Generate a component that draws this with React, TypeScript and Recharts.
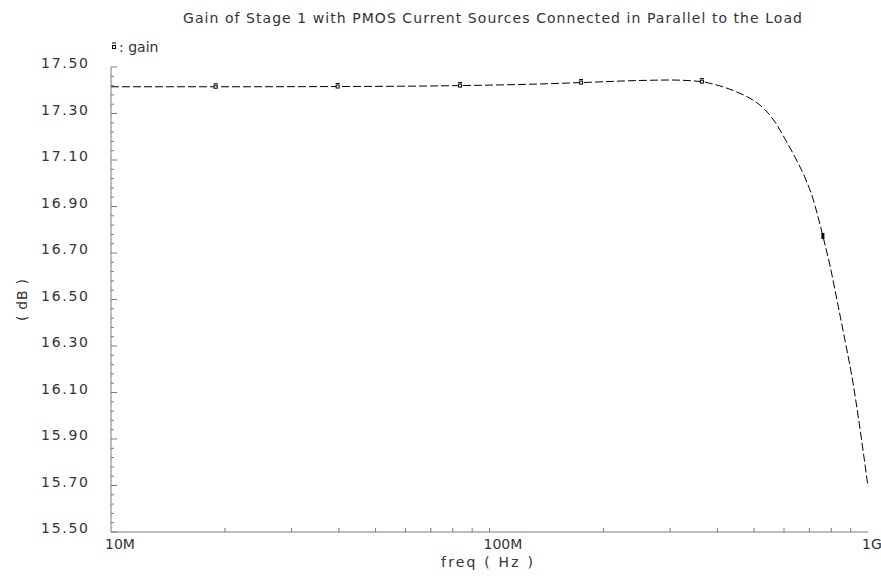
import React from 'react';
import { LineChart, Line, XAxis, YAxis } from 'recharts';

// frequency sweep (Hz) and gain (dB)
const FREQ = [
  1e7, 1.89e7, 3.97e7, 8.36e7, 1.36e8, 1.746e8, 2.5e8, 3.0e8, 3.64e8, 3.82e8, 4.06e8,
  4.4e8, 4.73e8, 5.03e8, 5.34e8, 5.68e8, 6.04e8, 6.41e8, 6.82e8, 7.16e8, 7.38e8, 7.6e8,
  7.94e8, 8.33e8, 8.69e8, 9.13e8, 9.41e8, 9.7e8, 1e9,
];
const GAIN = [
  17.415, 17.415, 17.416, 17.42, 17.427, 17.433, 17.442, 17.444, 17.437, 17.43, 17.419,
  17.399, 17.377, 17.352, 17.317, 17.263, 17.19, 17.113, 17.023, 16.932, 16.855, 16.773,
  16.644, 16.476, 16.326, 16.141, 16.003, 15.853, 15.694,
];
const MARKERS = [1.89e7, 3.97e7, 8.36e7, 1.746e8, 3.64e8];
const FILLED_MARKERS = [7.6e8];

const X_TICKS = [
  1e7, 2e7, 3e7, 4e7, 5e7, 6e7, 7e7, 8e7, 9e7,
  1e8, 2e8, 3e8, 4e8, 5e8, 6e8, 7e8, 8e8, 9e8, 1e9,
];
const X_LABELS: Record<string, string> = { '10000000': '10M', '100000000': '100M', '1000000000': '1G' };
const Y_MAJOR = [15.5, 15.7, 15.9, 16.1, 16.3, 16.5, 16.7, 16.9, 17.1, 17.3, 17.5];
const Y_LABELS = ['15.50', '15.70', '15.90', '16.10', '16.30', '16.50', '16.70', '16.90', '17.10', '17.30', '17.50'];

const AXIS = '#7a7a7a';
const INK = '#333';
const FONT = '"DejaVu Sans", sans-serif';

const data = FREQ.map((f, i) => ({
  freq: f,
  gain: GAIN[i],
  marker: MARKERS.includes(f) ? 'open' : FILLED_MARKERS.includes(f) ? 'filled' : '',
}));

// minor ticks: 5 steps between each labelled value
const yTicks: number[] = [];
Y_MAJOR.forEach((v, i) => {
  yTicks.push(v);
  if (i < Y_MAJOR.length - 1) {
    const step = (Y_MAJOR[i + 1] - v) / 5;
    for (let k = 1; k < 5; k++) yTicks.push(+(v + step * k).toFixed(3));
  }
});

const XTick = (props: any) => {
  const { x, y, payload } = props;
  const label = X_LABELS[String(payload.value)];
  const edge = payload.value === X_TICKS[0] || payload.value === X_TICKS[X_TICKS.length - 1];
  return (
    <g>
      {!edge && <line x1={x} x2={x} y1={y} y2={y - 4} stroke={AXIS} />}
      {label && (
        <text x={x - 6} y={y + 17} fontSize={14} fontFamily={FONT} fill={INK}>
          {label}
        </text>
      )}
    </g>
  );
};

const YTick = (props: any) => {
  const { x, y, payload } = props;
  const idx = Y_MAJOR.findIndex((v) => Math.abs(v - payload.value) < 1e-6);
  const major = idx >= 0;
  return (
    <g>
      <line x1={x} x2={x + (major ? 6 : 3)} y1={y} y2={y} stroke={AXIS} />
      {major && (
        <text
          x={41}
          y={y + 1}
          textLength={47}
          lengthAdjust="spacing"
          fontSize={14}
          fontFamily={FONT}
          fill={INK}
        >
          {Y_LABELS[idx]}
        </text>
      )}
    </g>
  );
};

const renderDot = (props: any) => {
  const { cx, cy, payload, index } = props;
  if (payload.marker === 'filled') {
    return <rect key={`m-${index}`} x={cx - 1.5} y={cy - 3} width={3} height={6} fill="#000" />;
  }
  if (payload.marker === 'open') {
    return (
      <g key={`m-${index}`}>
        <line x1={cx - 2} x2={cx + 2} y1={cy - 3} y2={cy - 3} stroke="#000" />
        <rect x={cx - 1.5} y={cy - 1.5} width={3} height={3} fill="#fff" stroke="#000" />
      </g>
    );
  }
  return <g key={`m-${index}`} />;
};

export default function App() {
  return (
    <div style={{ position: 'absolute', left: 0, top: 0, width: 881, height: 578, background: '#fff' }}>
      <LineChart width={881} height={578} data={data} margin={{ top: 67, right: 13, bottom: 0, left: 0 }}>
        <XAxis
          dataKey="freq"
          type="number"
          scale="log"
          domain={[1e7, 1e9]}
          ticks={X_TICKS}
          interval={0}
          height={46}
          tickSize={0}
          tickMargin={0}
          tickLine={false}
          axisLine={{ stroke: AXIS }}
          tick={<XTick />}
        />
        <YAxis
          type="number"
          domain={[15.5, 17.5]}
          ticks={yTicks}
          interval={0}
          width={111}
          tickSize={0}
          tickMargin={0}
          tickLine={false}
          axisLine={{ stroke: AXIS }}
          tick={<YTick />}
        />
        <Line
          type="monotone"
          dataKey="gain"
          stroke="#000"
          strokeWidth={1}
          strokeDasharray="8 3"
          dot={renderDot}
          activeDot={false}
          isAnimationActive={false}
        />
      </LineChart>
      <svg width={881} height={578} style={{ position: 'absolute', left: 0, top: 0, pointerEvents: 'none' }}>
        <text x={183} y={23} textLength={619} lengthAdjust="spacing" fontSize={14} fontFamily={FONT} fill={INK}>
          Gain of Stage 1 with PMOS Current Sources Connected in Parallel to the Load
        </text>
        <line x1={112} x2={116} y1={43} y2={43} stroke="#000" />
        <rect x={112.5} y={45.5} width={3} height={3} fill="none" stroke="#000" />
        <text x={119} y={52} fontSize={14} fontFamily={FONT} fill={INK}>
          :  gain
        </text>
        <text
          x={22}
          y={300}
          transform="rotate(-90 22 300)"
          textAnchor="middle"
          dominantBaseline="central"
          fontSize={14}
          textLength={42}
          lengthAdjust="spacing"
          fontFamily={FONT}
          fill={INK}
        >
          ( dB )
        </text>
        <text x={441} y={567} textLength={92} lengthAdjust="spacing" fontSize={14} fontFamily={FONT} fill={INK}>
          freq ( Hz )
        </text>
      </svg>
    </div>
  );
}
